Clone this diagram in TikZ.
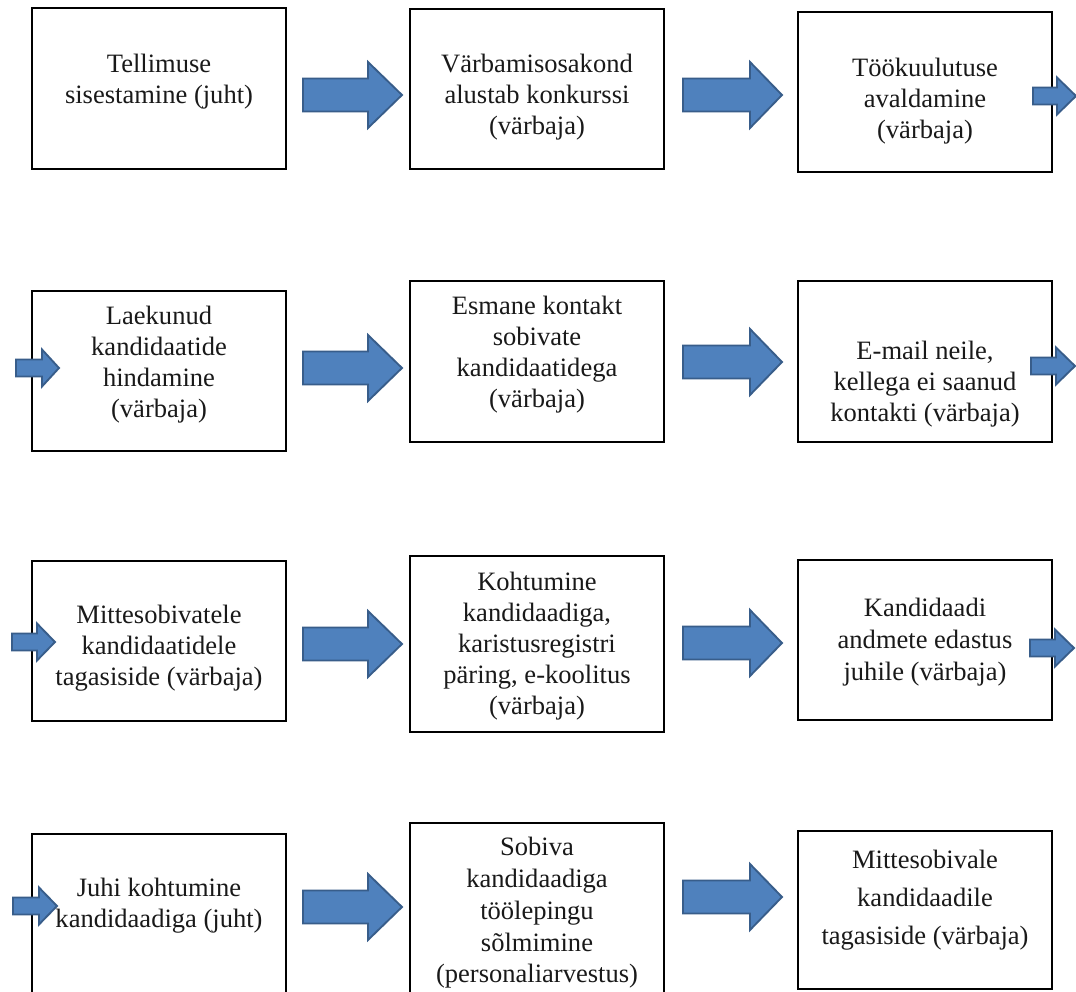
\documentclass[tikz,border=0pt]{standalone}
\usepackage{fontspec}
\setmainfont{Liberation Serif}
\begin{document}
\begin{tikzpicture}[x=0.75pt,y=-0.75pt,
  box/.style={draw=black, line width=1.6pt, fill=white, minimum width=254*0.75pt, inner sep=0pt},
  txt/.style={align=center, inner sep=0pt, text=black!90, font=\fontsize{19.9}{23.25}\selectfont},
  widetxt/.style={txt, font=\fontsize{19.9}{28.5}\selectfont},
  barrow/.style={fill=arrowblue, draw=arrowedge, line width=1.4pt, line join=miter}]
\definecolor{arrowblue}{HTML}{4F81BD}
\definecolor{arrowedge}{HTML}{385D8A}
\clip (0,0) rectangle (1076,992);
\fill[white] (0,0) rectangle (1076,992);
% block arrow: #1 start x, #2 head base x, #3 tip x, #4 centre y, #5 shaft half height, #6 head half height
\newcommand{\blockarrow}[6]{%
  \draw[barrow] (#1,#4-#5) -- (#2,#4-#5) -- (#2,#4-#6) -- (#3,#4) -- (#2,#4+#6) -- (#2,#4+#5) -- (#1,#4+#5) -- cycle;}
% boxes
\node[box, minimum height=161*0.75pt] (b11) at (159,88.5) {};
\node[box, minimum height=160*0.75pt] (b12) at (537,89) {};
\node[box, minimum height=160*0.75pt] (b13) at (925,92) {};
\node[box, minimum height=160*0.75pt] (b21) at (159,371) {};
\node[box, minimum height=161*0.75pt] (b22) at (537,361.5) {};
\node[box, minimum height=161*0.75pt] (b23) at (925,361.5) {};
\node[box, minimum height=160*0.75pt] (b31) at (159,641) {};
\node[box, minimum height=176*0.75pt] (b32) at (537,644) {};
\node[box, minimum height=160*0.75pt] (b33) at (925,640) {};
\node[box, minimum height=200*0.75pt] (b41) at (159,934) {};
\node[box, minimum height=200*0.75pt] (b42) at (537,923) {};
\node[box, minimum height=158*0.75pt] (b43) at (925,910) {};
% texts
\node[txt] (t11) at (159,81.5) {Tellimuse\\sisestamine (juht)};
\node[txt] (t12) at (537,97.5) {Värbamisosakond\\alustab konkurssi\\(värbaja)};
\node[txt] (t13) at (925,101) {Töökuulutuse\\avaldamine\\(värbaja)};
\node[txt] (t21) at (159,364.5) {Laekunud\\kandidaatide\\hindamine\\(värbaja)};
\node[txt] (t22) at (537,354.5) {Esmane kontakt\\sobivate\\kandidaatidega\\(värbaja)};
\node[txt] (t23) at (925,384) {E-mail neile,\\kellega ei saanud\\kontakti (värbaja)};
\node[txt, font=\fontsize{19.9}{24.2}\selectfont] (t33) at (925,642) {Kandidaadi\\andmete edastus\\juhile (värbaja)};
\node[txt] (t31) at (159,648) {Mittesobivatele\\kandidaatidele\\tagasiside (värbaja)};
\node[txt] (t32) at (537,646) {Kohtumine\\kandidaadiga,\\karistusregistri\\päring, e-koolitus\\(värbaja)};
\node[txt] (t41) at (159,905.5) {Juhi kohtumine\\kandidaadiga (juht)};
\node[txt, font=\fontsize{19.9}{23.8}\selectfont] (t42) at (537,913) {Sobiva\\kandidaadiga\\töölepingu\\sõlmimine\\(personaliarvestus)};
\node[widetxt] (t43) at (925,900.5) {Mittesobivale\\kandidaadile\\tagasiside (värbaja)};
% big arrows
\blockarrow{303}{368}{402}{95}{16.5}{33}
\blockarrow{683}{750}{782}{95}{16.5}{33}
\blockarrow{303}{368}{402}{368}{16.5}{33}
\blockarrow{683}{750}{782}{362}{16.5}{33}
\blockarrow{303}{368}{402}{644}{16.5}{33}
\blockarrow{683}{750}{782}{643}{16.5}{33}
\blockarrow{303}{368}{402}{907}{16.5}{33}
\blockarrow{683}{750}{782}{897}{16.5}{33}
% small arrows
\blockarrow{1033}{1057}{1076}{96}{8.5}{18.5}
\blockarrow{1031}{1056}{1075}{366}{8.5}{18.5}
\blockarrow{1030}{1055}{1074}{648}{8.5}{18.5}
\blockarrow{16}{42}{59}{368}{8.5}{18.5}
\blockarrow{12}{37}{55}{642}{8.5}{18.5}
\blockarrow{13}{39}{57}{906}{8.5}{18.5}
\end{tikzpicture}
\end{document}
